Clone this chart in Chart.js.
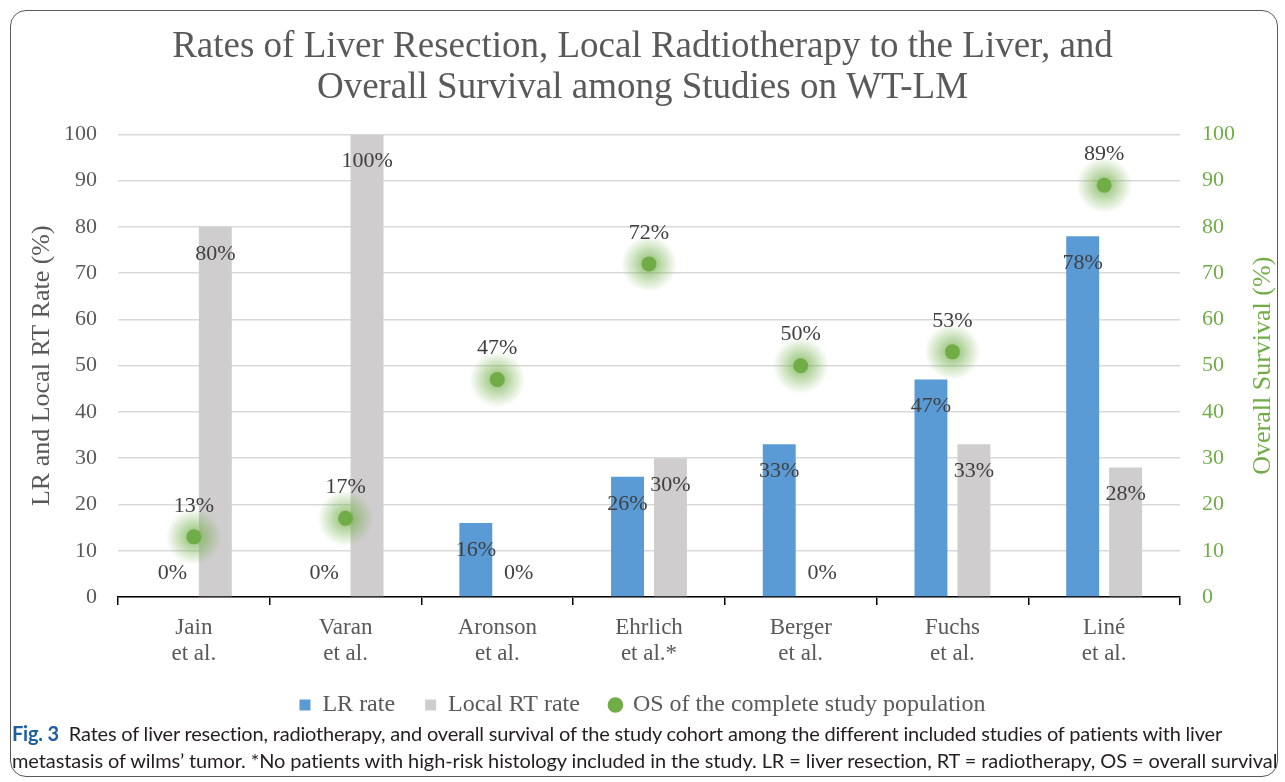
<!DOCTYPE html>
<html>
<head>
<meta charset="utf-8">
<script src="https://cdn.jsdelivr.net/npm/chart.js@4.4.1/dist/chart.umd.min.js"></script>
<style>
  html, body { margin:0; padding:0; background:#fff; }
  body { width:1285px; height:782px; position:relative; overflow:hidden; }
  #box { position:absolute; left:10px; top:10px; width:1268px; height:767px;
         border:1.5px solid #5a5a5a; border-radius:16px; box-sizing:border-box; }
  #c { position:absolute; left:0; top:0; }
  .cap { position:absolute; left:12px; white-space:nowrap; font-family:'Lato','Noto Sans',sans-serif;
         font-size:20px; line-height:27px; color:#231f20; }
  .cap b { color:#1d5fa0; font-weight:700; }
</style>
</head>
<body>
<div id="box"></div>
<canvas id="c" width="1285" height="727"></canvas>
<div class="cap" id="cap1" style="top:720px"><b>Fig. 3</b>&nbsp; Rates of liver resection, radiotherapy, and overall survival of the study cohort among the different included studies of patients with liver</div>
<div class="cap" id="cap2" style="top:747px">metastasis of wilms’ tumor. *No patients with high-risk histology included in the study. LR = liver resection, RT = radiotherapy, OS = overall survival</div>
<script>
// ---- data ----
const categories = [["Jain","et al."],["Varan","et al."],["Aronson","et al."],["Ehrlich","et al.*"],["Berger","et al."],["Fuchs","et al."],["Liné","et al."]];
const lrRate = [0, 0, 16, 26, 33, 47, 78];
const rtRate = [80, 100, 0, 30, 0, 33, 28];
const osRate = [13, 17, 47, 72, 50, 53, 89];
const titleLines = ["Rates of Liver Resection, Local Radtiotherapy to the Liver, and", "Overall Survival among Studies on WT-LM"];
const seriesNames = ["LR rate", "Local RT rate", "OS of the complete study population"];
const leftAxisTitle = "LR and Local RT Rate (%)";
const rightAxisTitle = "Overall Survival (%)";
const axisMin = 0, axisMax = 100, axisStep = 10;

const SERIF = "'Liberation Serif','Times New Roman',serif";
const GREEN = '#70AD47';

function fitCap(id, target) {
  const el = document.getElementById(id);
  const w = el.getBoundingClientRect().width;
  const n = el.textContent.length;
  el.style.letterSpacing = ((target - w) / n) + 'px';
}

const labelPlugin = {
  id: 'valueLabels',
  afterDatasetsDraw(chart) {
    const ctx = chart.ctx;
    ctx.save();
    ctx.font = "22px " + SERIF;
    ctx.fillStyle = '#404040';
    ctx.textAlign = 'center';
    ctx.textBaseline = 'middle';
    chart.data.datasets.forEach((ds, di) => {
      const meta = chart.getDatasetMeta(di);
      meta.data.forEach((el, i) => {
        const v = ds.data[i];
        let y;
        if (di === 2) y = el.y - 31;
        else y = v > 0 ? el.y + 27 : el.base - 24;
        ctx.fillText(v + '%', el.x, y);
      });
    });
    ctx.restore();
  }
};

// soft green halo behind each OS point
const glowPlugin = {
  id: 'glow',
  beforeDatasetDraw(chart, args) {
    if (args.index !== 2) return;
    const c = chart.ctx;
    c.save();
    args.meta.data.forEach(el => {
      const g = c.createRadialGradient(el.x, el.y, 4, el.x, el.y, 28);
      g.addColorStop(0, 'rgba(112,173,71,0.7)');
      g.addColorStop(0.4, 'rgba(112,173,71,0.42)');
      g.addColorStop(1, 'rgba(112,173,71,0)');
      c.fillStyle = g;
      c.beginPath(); c.arc(el.x, el.y, 28, 0, Math.PI * 2); c.fill();
    });
    c.restore();
  }
};

const axisTitlePlugin = {
  id: 'axisTitles',
  afterDraw(chart) {
    const ctx = chart.ctx, a = chart.chartArea;
    const cy = (a.top + a.bottom) / 2;
    ctx.save();
    ctx.font = "26px " + SERIF;
    ctx.textAlign = 'center';
    ctx.textBaseline = 'middle';
    ctx.fillStyle = '#595959';
    ctx.translate(42, cy); ctx.rotate(-Math.PI / 2);
    ctx.fillText(leftAxisTitle, 0, 0);
    ctx.restore();
    ctx.save();
    ctx.font = "26px " + SERIF;
    ctx.textAlign = 'center';
    ctx.textBaseline = 'middle';
    ctx.fillStyle = GREEN;
    ctx.translate(1263, cy); ctx.rotate(-Math.PI / 2);
    ctx.fillText(rightAxisTitle, 0, 0);
    ctx.restore();
  }
};

new Chart(document.getElementById('c'), {
  data: {
    labels: categories,
    datasets: [
      { type: 'bar', label: seriesNames[0], data: lrRate, backgroundColor: '#5B9BD5', yAxisID: 'y',
        categoryPercentage: 0.566, barPercentage: 0.767, order: 1, pointStyle: 'rect' },
      { type: 'bar', label: seriesNames[1], data: rtRate, backgroundColor: '#CFCDCD', yAxisID: 'y',
        categoryPercentage: 0.566, barPercentage: 0.767, order: 1, pointStyle: 'rect' },
      { type: 'line', label: seriesNames[2], data: osRate, yAxisID: 'y1', showLine: false,
        pointRadius: 7.5, pointHoverRadius: 7.5, pointBackgroundColor: GREEN, pointBorderColor: GREEN,
        pointBorderWidth: 0, backgroundColor: GREEN, borderColor: GREEN, pointStyle: 'circle', order: 0 }
    ]
  },
  options: {
    responsive: false,
    animation: false,
    events: [],
    layout: { padding: { top: 0, bottom: 0, left: 0, right: 0 } },
    plugins: {
      tooltip: { enabled: false },
      title: {
        display: true, text: titleLines, color: '#595959',
        font: { family: SERIF, size: 37, weight: 'normal', lineHeight: 1.1 },
        padding: { top: 27, bottom: 26 }
      },
      legend: {
        position: 'bottom',
        labels: {
          usePointStyle: true, boxHeight: 11, boxWidth: 11, padding: 30,
          color: '#595959', font: { family: SERIF, size: 24 },
          sort: (a, b) => a.datasetIndex - b.datasetIndex
        }
      }
    },
    scales: {
      x: {
        offset: true,
        grid: { display: true, drawOnChartArea: false, offset: true, color: '#000', tickLength: 8, lineWidth: 1.5 },
        border: { display: true, color: '#000', width: 1.5 },
        ticks: { color: '#595959', font: { family: SERIF, size: 23, lineHeight: 1.17 }, padding: 9, maxRotation: 0, autoSkip: false },
        afterFit(s) { s.height = 66; }
      },
      y: {
        position: 'left', min: axisMin, max: axisMax,
        ticks: { stepSize: axisStep, color: '#595959', font: { family: SERIF, size: 22 }, padding: 21 },
        grid: { color: '#d9d9d9', lineWidth: 1.5, drawTicks: false },
        border: { display: false },
        afterFit(s) { s.width = 118; }
      },
      y1: {
        position: 'right', min: axisMin, max: axisMax,
        ticks: { stepSize: axisStep, color: GREEN, font: { family: SERIF, size: 22 }, padding: 22 },
        grid: { display: false, drawTicks: false },
        border: { display: false },
        afterFit(s) { s.width = 105; }
      }
    }
  },
  plugins: [glowPlugin, labelPlugin, axisTitlePlugin]
});

fitCap('cap1', 1210);
fitCap('cap2', 1266);
</script>
</body>
</html>
